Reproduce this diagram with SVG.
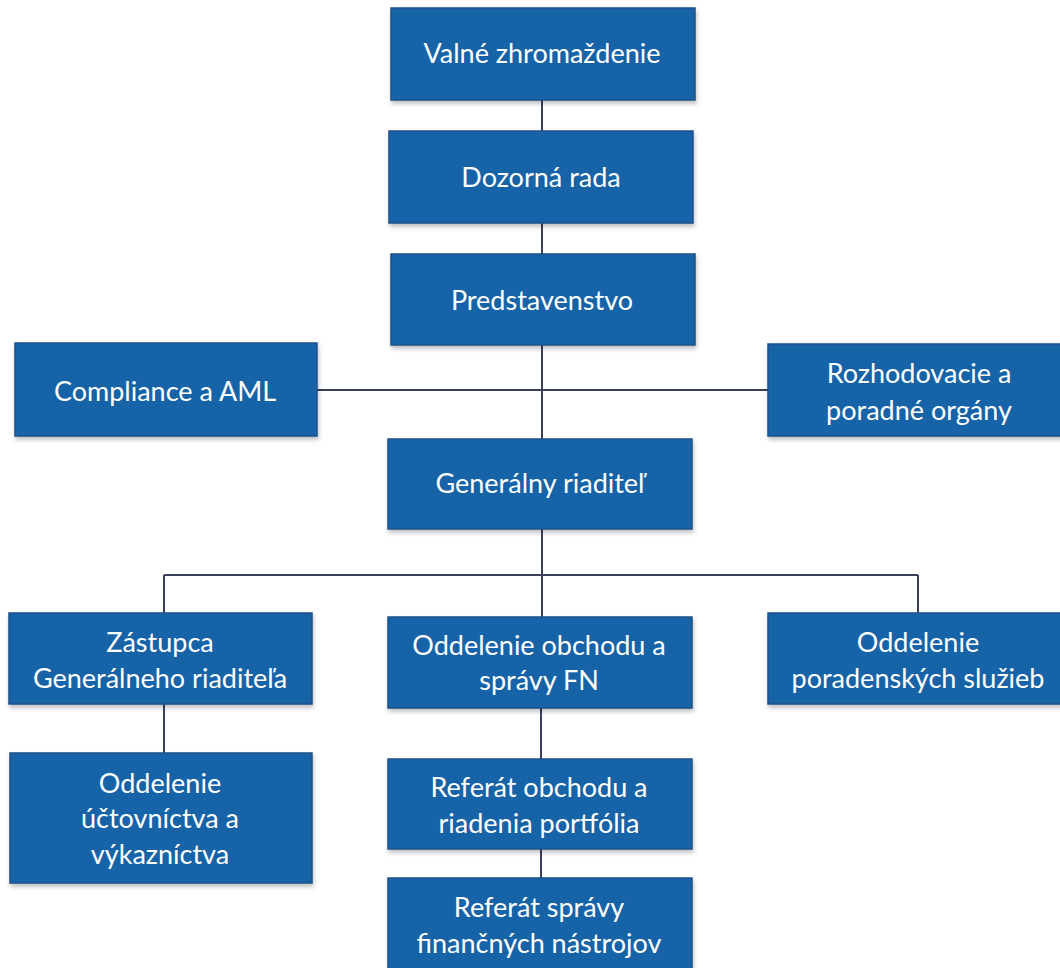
<svg xmlns="http://www.w3.org/2000/svg" width="1060" height="968" viewBox="0 0 1060 968">
<defs>
<filter id="sh" x="-5%" y="-5%" width="110%" height="120%">
<feDropShadow dx="1" dy="3" stdDeviation="2" flood-color="#000" flood-opacity="0.25"/>
</filter>
<style>
.box{fill:#1864A8;stroke:#1B5089;stroke-width:1.5;filter:url(#sh)}
.t{font-family:Lato,"Open Sans","DejaVu Sans",sans-serif;font-size:27px;fill:#ffffff;text-anchor:middle}
.c{stroke:#3A3F5C;stroke-width:2;fill:none}
</style>
</defs>
<rect width="1060" height="968" fill="#ffffff"/>
<g id="connectors">
<path class="c" d="M542,100 V617"/>
<path class="c" d="M317,390 H768"/>
<path class="c" d="M164,575 H918"/>
<path class="c" d="M164,575 V753"/>
<path class="c" d="M918,575 V613"/>
<path class="c" d="M541,708 V878"/>
</g>
<g id="n1"><rect class="box" x="391" y="8" width="304" height="92"/><text class="t" x="542" y="63">Valné zhromaždenie</text></g>
<g id="n2"><rect class="box" x="389" y="131" width="304" height="92"/><text class="t" x="541" y="187">Dozorná rada</text></g>
<g id="n3"><rect class="box" x="391" y="254" width="304" height="91"/><text class="t" x="542" y="310">Predstavenstvo</text></g>
<g id="n4"><rect class="box" x="15" y="343" width="302" height="93"/><text class="t" x="165" y="401">Compliance a AML</text></g>
<g id="n5"><rect class="box" x="768" y="344" width="302" height="92"/><text class="t" x="919" y="383">Rozhodovacie a</text><text class="t" x="919" y="420">poradné orgány</text></g>
<g id="n6"><rect class="box" x="388" y="439" width="304" height="90"/><text class="t" x="540" y="493">Generálny riaditeľ</text></g>
<g id="n7"><rect class="box" x="9" y="613" width="303" height="91"/><text class="t" x="160" y="652">Zástupca</text><text class="t" x="160" y="688">Generálneho riaditeľa</text></g>
<g id="n8"><rect class="box" x="388" y="617" width="304" height="91"/><text class="t" x="539" y="655">Oddelenie obchodu a</text><text class="t" x="539" y="690">správy FN</text></g>
<g id="n9"><rect class="box" x="768" y="613" width="302" height="91"/><text class="t" x="918" y="652">Oddelenie</text><text class="t" x="918" y="688">poradenských služieb</text></g>
<g id="n10"><rect class="box" x="10" y="753" width="302" height="130"/><text class="t" x="160" y="793">Oddelenie</text><text class="t" x="160" y="828">účtovníctva a</text><text class="t" x="160" y="864">výkazníctva</text></g>
<g id="n11"><rect class="box" x="388" y="759" width="304" height="90"/><text class="t" x="539" y="797">Referát obchodu a</text><text class="t" x="539" y="833">riadenia portfólia</text></g>
<g id="n12"><rect class="box" x="388" y="878" width="304" height="100"/><text class="t" x="539" y="917">Referát správy</text><text class="t" x="539" y="953">finančných nástrojov</text></g>
</svg>
